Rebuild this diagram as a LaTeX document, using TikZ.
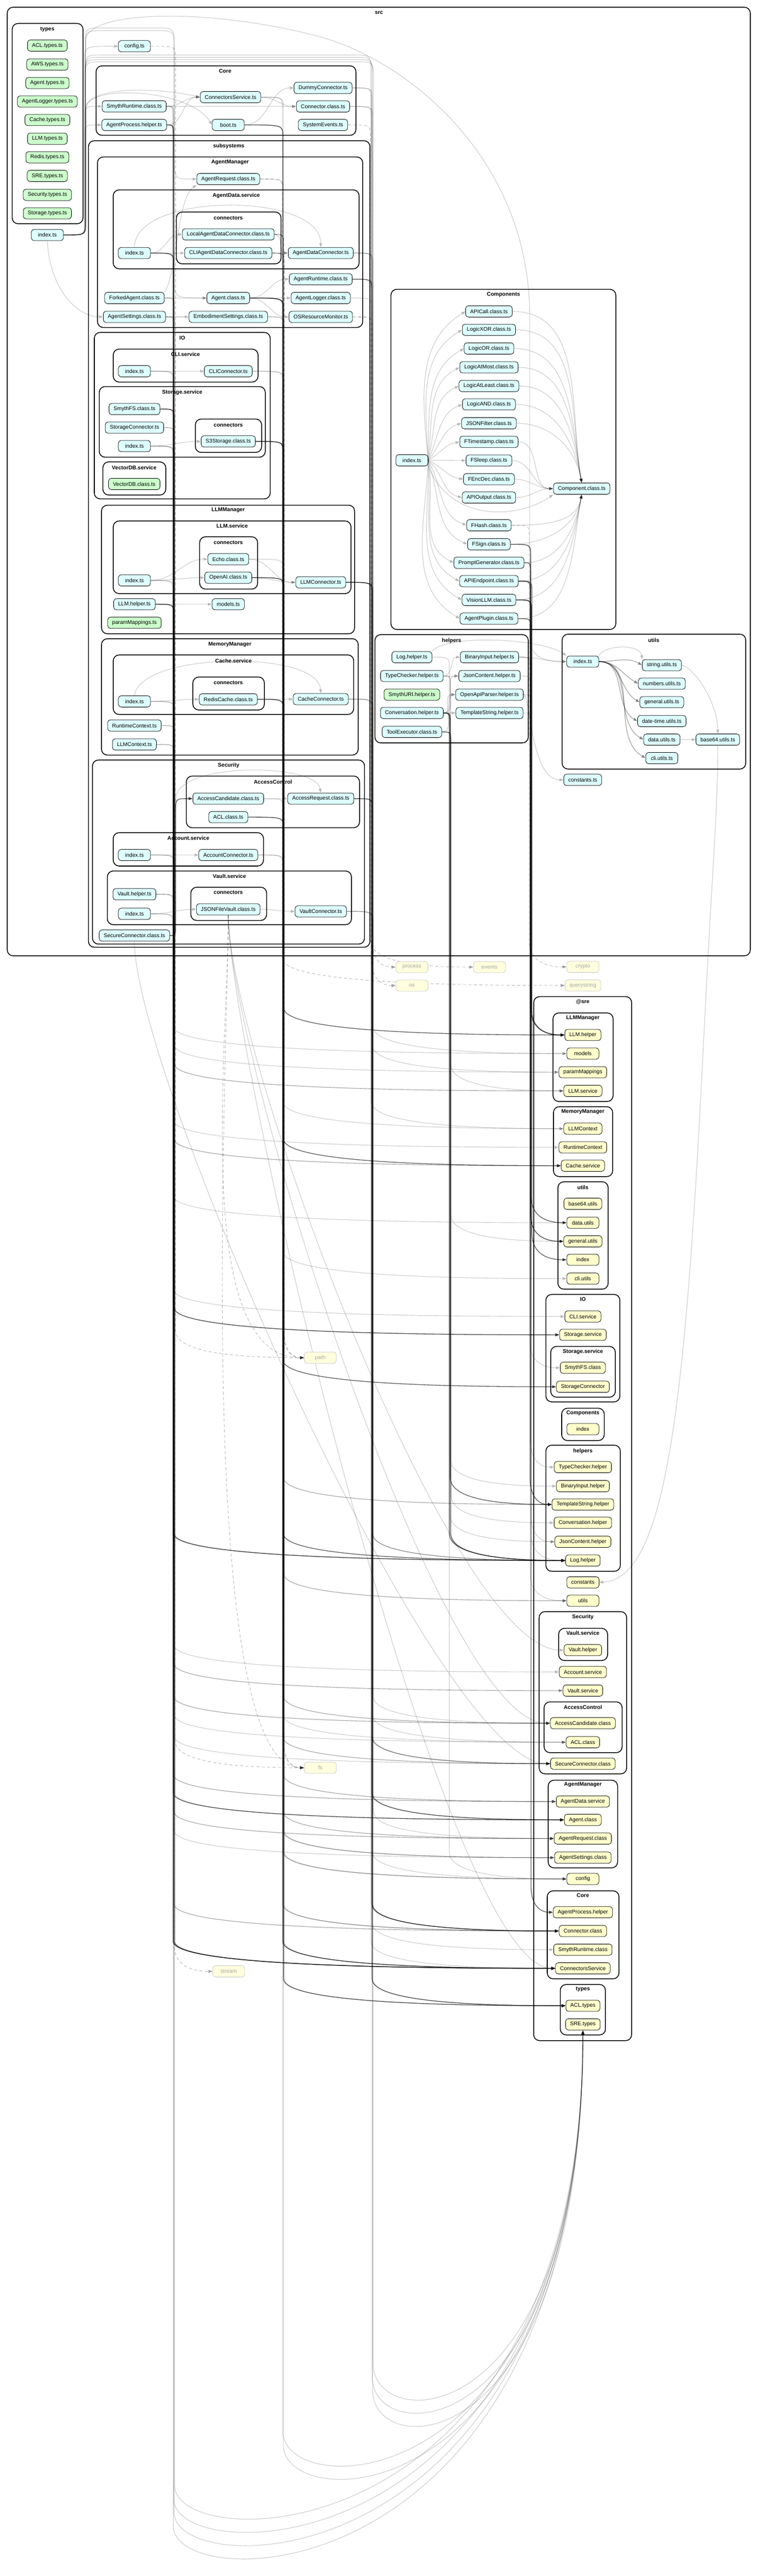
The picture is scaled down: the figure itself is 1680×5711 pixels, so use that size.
\documentclass[tikz,border=0pt]{standalone}
\usepackage{fontspec}
\setmainfont{Liberation Sans}
\usetikzlibrary{arrows.meta, calc}
\definecolor{fileblue}{RGB}{221,254,255}
\definecolor{typegreen}{RGB}{204,255,204}
\definecolor{sreyellow}{RGB}{255,255,204}
\definecolor{coreyellow}{RGB}{255,255,222}
\newcommand{\nodefont}{\fontsize{12}{14}\selectfont}
\pgfdeclarelayer{clusters}
\pgfdeclarelayer{edges}
\pgfsetlayers{clusters,edges,main}
% down a channel, then across to the target
\newcommand{\chanedge}[4]{\draw[#1] let \p1=(#2.east), \p2=(#3.west) in
  (#2.east) .. controls (#4pt,\y1) .. (#4pt,\y1-25pt) -- (#4pt,\y2+60pt)
  .. controls (#4pt,\y2+10pt) and (0.5*#4pt+0.5*\x2,\y2) .. (#3.west);}
% up a channel
\newcommand{\upedge}[4]{\draw[#1] let \p1=(#2.east), \p2=(#3.west) in
  (#2.east) .. controls (#4pt,\y1) .. (#4pt,\y1+25pt) -- (#4pt,\y2-30pt)
  .. controls (#4pt,\y2) .. (#3.west);}
% round the bottom into SRE.types
\newcommand{\loopedge}[4]{\draw[#1] let \p1=(#2.east) in
  (#2.east) .. controls (#3pt,\y1) .. (#3pt,\y1-25pt) -- (#3,#4-100)
  .. controls (#3,#4+60) and (1292,#4+60) .. (sSREtypes.south);}
\newcommand{\dropedge}[3]{\draw[#1] (#2.south) .. controls +(0,300) and +(-250,0) .. (#3.west);}

\begin{document}
\begin{tikzpicture}[
    x=1pt, y=-1pt,
    file/.style={draw, line width=0.9pt, rounded corners=6pt, fill=fileblue,
      minimum height=25pt, minimum width=71pt, inner xsep=10pt, inner ysep=0pt, font=\nodefont},
    tsfile/.style={file, fill=typegreen},
    srefile/.style={file, fill=sreyellow},
    corefile/.style={file, fill=coreyellow, draw=black!22, text=black!35},
    grp/.style={draw, line width=1.8pt, rounded corners=13pt},
    grplabel/.style={font=\nodefont\bfseries},
    dep/.style={draw=black, opacity=0.2, line width=1.3pt, -{Triangle[length=9pt,width=6.5pt]}},
    dkdep/.style={draw=black, opacity=0.65, line width=1.5pt, -{Triangle[length=9pt,width=6.5pt]}},
    coredep/.style={draw=black, opacity=0.3, line width=1pt, dash pattern=on 7pt off 5pt,
      -{Triangle[length=9pt,width=6.5pt]}}
]
\useasboundingbox (0,0) rectangle (1680,5711);
\begin{pgfonlayer}{clusters}
  \fill[white] (0,0) rectangle (1680,5711);
\end{pgfonlayer}

% clusters
\foreach \nm/\xa/\ya/\xb/\yb/\lab/\lx/\ly in {
    gSrc/16/16/1663/2119/src/840/28,
    gTypes/27/52/184/496/types/105/65,
    gCore/213/146/789/300/Core/499/157.5,
    gSub/196/312/820/2100/subsystems/507/324,
    gAgentMgr/216/348/804/726/AgentManager/510/360,
    gAgentData/251/421/796/596/AgentData.service/523.6/433.6,
    gConnAD/391/470/623/585/connectors/506/483,
    gIO/209/737/599/1106/IO/404/749.6,
    gCLI/251/774/572/847/CLI.service/411/786,
    gStorage/220/857/588/1013.6/Storage.service/404/869.6,
    gConnSt/433/929/580/1003/connectors/506/942,
    gVectorDB/228/1024/367.5/1097.5/VectorDB.service/297.5/1037,
    gLLMMgr/225/1120/786/1405/LLMManager/505.7/1131,
    gLLMsvc/251/1155/778/1316/LLM.service/514.6/1166,
    gConnLLM/442.5/1190/571/1306/connectors/506/1203,
    gMemMgr/225/1416/794/1674/MemoryManager/509.6/1428.6,
    gCache/251/1452/784/1584/Cache.service/517.5/1464.7,
    gConnCache/427.5/1501/586/1574/connectors/506/1513,
    gSecurity/205/1685/808/2093/Security/506.8/1697.3,
    gAccessCtl/413/1720.5/797/1835/AccessControl/605/1733.5,
    gAccount/251/1846/584/1920/Account.service/417.5/1858.5,
    gVault/238/1931/779/2050/Vault.service/508.6/1942.4,
    gConnVault/423/1967/591/2040.6/connectors/506/1978.6,
    gComponents/866.5/641.4/1365/1395.5/Components/1116/653.7,
    gHelpers/831/1407/1171/1647/helpers/1001/1420.7,
    gUtils/1246/1406/1653/1705/utils/1449/1419,
    gSre/1183/2209.5/1400/4524/@sre/1291.7/2221.6,
    gsLLMMgr/1225.7/2245.7/1359/2442/LLMManager/1292/2257,
    gsMemMgr/1226.7/2453.5/1358/2608.5/MemoryManager/1292/2465,
    gsUtils/1236.7/2620/1348/2858/utils/1292/2632.6,
    gsIO/1210/2869.7/1374/3108/IO/1292/2881,
    gsStorage/1220.7/2985/1364/3097.5/Storage.service/1292/2996.5,
    gsComponents/1245/3122/1339.3/3193.7/Components/1292/3132.6,
    gsHelpers/1210/3204/1375/3483.5/helpers/1292/3216.8,
    gsSecurity/1195/3573/1389/3932.6/Security/1292/3585,
    gsVault/1238.3/3610/1346.7/3681.4/Vault.service/1292/3621,
    gsAccessCtl/1206/3773/1379/3885.6/AccessControl/1292/3785,
    gsAgentMgr/1215/3946.7/1369/4141/AgentManager/1292/3957,
    gsCore/1213/4192/1372/4387/Core/1292/4202,
    gsTypes/1242/4399.5/1342/4511.4/types/1292/4410}
{
  \begin{pgfonlayer}{clusters}
    \draw[grp] (\xa,\ya) rectangle (\xb,\yb);
  \end{pgfonlayer}
  \node[grplabel] (\nm) at (\lx,\ly) {\lab};
}

% src files
\foreach \nm/\x/\y/\t in {
    srcIndex/105/521/index.ts, config/298/102.5/config.ts,
    smythRuntime/297.5/235.7/SmythRuntime.class.ts, agentProcess/297.5/277/AgentProcess.helper.ts,
    connSvc/511/215.4/ConnectorsService.ts, boot/506/277/boot.ts,
    dummyConn/716/195/DummyConnector.ts, connClass/716/236/Connector.class.ts,
    sysEvents/716/277/SystemEvents.ts,
    agentRequest/506/397/AgentRequest.class.ts,
    adIndex/298/561/index.ts, localADC/506/519.6/LocalAgentDataConnector.class.ts,
    cliADC/506/561/CLIAgentDataConnector.class.ts, adConn/711/561/AgentDataConnector.ts,
    agentRuntime/711/619/AgentRuntime.class.ts, agentLogger/711/660.7/AgentLogger.class.ts,
    osMonitor/711/702.5/OSResourceMonitor.ts,
    forkedAgent/298/660.7/ForkedAgent.class.ts, agentClass/506/660.7/Agent.class.ts,
    agentSettings/298/702.5/AgentSettings.class.ts, embodiment/506/702.5/EmbodimentSettings.class.ts,
    cliIndex/298/823/index.ts, cliConn/506/823/CLIConnector.ts,
    smythFS/298/906.8/SmythFS.class.ts, storageConn/298/948/StorageConnector.ts,
    stIndex/298/989/index.ts, s3/506/978.6/S3Storage.class.ts,
    echo/506/1239.6/Echo.class.ts, openai/506/1280.7/OpenAI.class.ts,
    llmIndex/298/1286.8/index.ts, llmConn/711/1291/LLMConnector.ts,
    llmHelper/298/1339.6/LLM.helper.ts, models/506/1339.6/models.ts,
    redis/506/1550.4/RedisCache.class.ts, cacheIndex/298/1555/index.ts,
    cacheConn/711/1550/CacheConnector.ts,
    runtimeCtx/298/1608.5/RuntimeContext.ts, llmCtx/298/1650.4/LLMContext.ts,
    accessCand/506/1770.5/AccessCandidate.class.ts, accessReq/711/1770.5/AccessRequest.class.ts,
    aclClass/506/1811.6/ACL.class.ts,
    accIndex/298/1895.5/index.ts, accConn/506/1895.5/AccountConnector.ts,
    vaultHelper/298/1982.6/Vault.helper.ts, jsonVault/506/2016/JSONFileVault.class.ts,
    vaultIndex/298/2026/index.ts, vaultConn/711/2020.5/VaultConnector.ts,
    secureConn/298/2074/SecureConnector.class.ts,
    cIndex/913/1020.5/index.ts, compClass/1289.4/1083.3/Component.class.ts,
    logHelper/913/1457/Log.helper.ts, binInput/1085/1457/BinaryInput.helper.ts,
    typeChecker/913/1498.7/TypeChecker.helper.ts, jsonContent/1085/1498.7/JsonContent.helper.ts,
    openApi/1085/1540/OpenApiParser.helper.ts,
    conversation/913/1580.7/Conversation.helper.ts, templateStr/1085/1580.7/TemplateString.helper.ts,
    toolExec/913/1622.7/ToolExecutor.class.ts,
    uIndex/1291.7/1466.7/index.ts, uString/1467/1474.7/string.utils.ts,
    uNumbers/1467/1515.7/numbers.utils.ts, uGeneral/1467/1556.7/general.utils.ts,
    uDateTime/1467/1598.7/date-time.utils.ts, uData/1467/1639.7/data.utils.ts,
    uCli/1467/1680.7/cli.utils.ts, uBase64/1591/1639.7/base64.utils.ts,
    constants/1291.7/1729/constants.ts}
  {\node[file] (\nm) at (\x,\y) {\t};}

\foreach \nm/\y/\t in {
    cAPICall/690.4/APICall.class.ts, cLogicXOR/731.2/LogicXOR.class.ts,
    cLogicOR/772.6/LogicOR.class.ts, cLogicAtMost/814.4/LogicAtMost.class.ts,
    cLogicAtLeast/855.7/LogicAtLeast.class.ts, cLogicAND/896.5/LogicAND.class.ts,
    cJSONFilter/938.4/JSONFilter.class.ts, cFTimestamp/979.7/FTimestamp.class.ts,
    cFSleep/1021/FSleep.class.ts, cFEncDec/1062.3/FEncDec.class.ts,
    cAPIOutput/1103/APIOutput.class.ts, cFHash/1164.4/FHash.class.ts,
    cFSign/1206.7/FSign.class.ts, cPromptGen/1247.6/PromptGenerator.class.ts,
    cAPIEndpoint/1288.4/APIEndpoint.class.ts, cVisionLLM/1330/VisionLLM.class.ts,
    cAgentPlugin/1371.5/AgentPlugin.class.ts}
  {\node[file] (\nm) at (1083.8,\y) {\t};}

\foreach \nm/\x/\y/\t in {
    tACL/105/101/ACL.types.ts, tAWS/105/143/AWS.types.ts, tAgent/105/184/Agent.types.ts,
    tAgentLogger/105/225/AgentLogger.types.ts, tCache/105/266/Cache.types.ts,
    tLLM/105/307.5/LLM.types.ts, tRedis/105/348.6/Redis.types.ts, tSRE/105/390/SRE.types.ts,
    tSecurity/105/432/Security.types.ts, tStorage/105/473/Storage.types.ts,
    vectorDB/297.5/1073/VectorDB.class.ts, paramMap/298/1380.7/paramMappings.ts,
    smythURI/913/1540/SmythURI.helper.ts}
  {\node[tsfile] (\nm) at (\x,\y) {\t};}

% @sre paths
\foreach \nm/\y/\t in {
    sLLMhelper/2294.5/LLM.helper, sModels/2335.8/models, sParamMap/2377/paramMappings,
    sLLMservice/2418.5/LLM.service, sLLMContext/2502.3/LLMContext,
    sRuntimeCtx/2543.6/RuntimeContext, sCacheService/2584.4/Cache.service,
    sBase64/2668.8/base64.utils, sDataUtils/2710.7/data.utils, sGeneralUtils/2752/general.utils,
    sUIndex/2792.8/index, sCliUtils/2834.7/cli.utils, sCLIservice/2918.6/CLI.service,
    sStorageSvc/2959.3/Storage.service, sSmythFS/3032.3/SmythFS.class,
    sStorageConn/3074.4/StorageConnector, sCompIndex/3168.4/index,
    sTypeChecker/3252.6/TypeChecker.helper, sBinaryInput/3294.7/BinaryInput.helper,
    sTemplateString/3335.4/TemplateString.helper, sConversation/3376/Conversation.helper,
    sJsonContent/3418/JsonContent.helper, sLogHelper/3459.6/Log.helper,
    sConstants/3508/constants, sUtils/3548.8/utils, sVaultHelper/3658.2/Vault.helper,
    sAccountSvc/3706.7/Account.service, sVaultSvc/3748/Vault.service,
    sAccessCand/3820.4/AccessCandidate.class, sACLclass/3862.5/ACL.class,
    sSecureConn/3910/SecureConnector.class, sAgentDataSvc/3994/AgentData.service,
    sAgentClass/4034.6/Agent.class, sAgentRequest/4076/AgentRequest.class,
    sAgentSettings/4118.4/AgentSettings.class, sConfig/4165.6/config,
    sAgentProcess/4239.4/AgentProcess.helper, sConnectorClass/4281/Connector.class,
    sSmythRuntime/4322.4/SmythRuntime.class, sConnectorsSvc/4363.8/ConnectorsService,
    sACLtypes/4446.7/ACL.types, sSREtypes/4488/SRE.types}
  {\node[srefile] (\nm) at (1292,\y) {\t};}

% node core modules
\foreach \nm/\x/\y/\t in {
    mProcess/913/2144/process, mEvents/1085/2144/events, mCrypto/1292/2143.5/crypto,
    mOs/913/2185/os, mQuery/1292/2184.8/querystring, mPath/710/3010/path,
    mFs/710/3919/fs, mStream/507/4370.5/stream}
  {\node[corefile] (\nm) at (\x,\y) {\t};}

\begin{pgfonlayer}{edges}
% local imports
\foreach \a/\b in {smythRuntime/connSvc, agentProcess/connSvc, smythRuntime/connClass,
    boot/dummyConn, connSvc/connClass,
    adIndex/localADC, adIndex/cliADC, localADC/adConn, cliADC/adConn,
    forkedAgent/agentClass, agentSettings/embodiment, agentClass/agentRuntime,
    agentClass/agentLogger, agentClass/osMonitor,
    cliIndex/cliConn, stIndex/s3,
    llmIndex/echo, llmIndex/openai, echo/llmConn, openai/llmConn, llmHelper/models,
    cacheIndex/redis, redis/cacheConn,
    accessCand/accessReq, accIndex/accConn, vaultIndex/jsonVault, jsonVault/vaultConn,
    typeChecker/binInput, typeChecker/jsonContent, conversation/jsonContent,
    conversation/openApi, conversation/templateStr, toolExec/openApi, binInput/uIndex,
    uData/uBase64}
  {\draw[dep] (\a.east) to[out=0,in=180] (\b.west);}

\draw[dep] (adIndex.north) .. controls (300,425) and (711,425) .. (adConn.north);
\draw[dep] (cacheIndex.north) .. controls (310,1445) and (705,1440) .. (cacheConn.north);
\draw[dep] (forkedAgent.north east) .. controls (392,610) and (392,440) .. (agentRequest.south west);
\draw[dep] (secureConn.east) .. controls (390,2074) .. (390,2044) -- (390,1770)
  .. controls (390,1690) and (700,1690) .. (accessReq.north);
\upedge{dkdep}{secureConn}{accessCand}{389}
\draw[dep] (logHelper.north east) .. controls (990,1405) and (1200,1415) .. (uIndex.north west);
\draw[dep] (uIndex.north east) .. controls (1340,1428) and (1420,1428) .. (uString.north west);
\draw[dep] (uString.east) .. controls (1540,1480) and (1591,1560) .. (uBase64.north);
\draw[dep] (openApi.east) .. controls (1176,1540) and (1176,1729) .. (constants.west);
\foreach \u in {uString, uNumbers, uGeneral, uDateTime, uData, uCli}
  {\draw[dkdep, opacity=0.35] (uIndex.east) to[out=0,in=150] (\u.west);}
\draw[dep] (uBase64.south) .. controls (1591,1800) and (1580,1900) .. (1560,2300)
  .. controls (1520,3100) and (1480,3500) .. (sConstants.east);

% Components
\foreach \c/\o [evaluate=\o as \i using 180+\o/3] in {cAPICall/95, cLogicXOR/92,
    cLogicOR/88, cLogicAtMost/82, cLogicAtLeast/75, cLogicAND/65, cJSONFilter/50,
    cFTimestamp/30, cFSleep/0, cFEncDec/-25, cAPIOutput/-40, cFHash/-60, cFSign/-70,
    cPromptGen/-78, cAPIEndpoint/-84, cVisionLLM/-88, cAgentPlugin/-92}
  {\draw[dep] (cIndex.east) to[out=\o,in=\i] (\c.west);}
\foreach \c in {cAPICall, cLogicXOR, cLogicOR, cLogicAtMost, cLogicAtLeast, cLogicAND, cJSONFilter}
  {\draw[dep] (\c.east) to[out=0,in=100] (compClass.north);}
\foreach \c in {cFTimestamp, cFSleep, cFEncDec, cAPIOutput}
  {\draw[dep] (\c.east) to[out=0,in=180] (compClass.west);}
\foreach \c in {cFHash, cFSign, cPromptGen, cAPIEndpoint, cVisionLLM, cAgentPlugin}
  {\draw[dep] (\c.east) to[out=0,in=-100] (compClass.south);}
\draw[dep] (cIndex.south east) .. controls (1000,1160) and (1150,1150) .. (compClass.south west);

% src/index.ts
\foreach \d in {config, smythRuntime, agentProcess}
  {\upedge{dep}{srcIndex}{\d}{188}}
\draw[dep] (srcIndex.east) .. controls (190,521) .. (190,496) -- (190,240)
  .. controls (190,196) and (330,190) .. (connSvc.west);
\draw[dep] (srcIndex.east) .. controls (191,521) .. (191,496) -- (191,240)
  .. controls (191,186) and (420,196) .. (boot.west);
\foreach \d/\yt in {agentRequest/62, agentClass/68}
  {\draw[dep] let \p2=(\d.west) in (srcIndex.east) .. controls (189,521) .. (189,496)
    -- (189,\yt+40) .. controls (189,\yt) .. (229,\yt) -- (346,\yt)
    .. controls (386,\yt) .. (386,\yt+40) -- (386pt,\y2+50pt) .. controls (386pt,\y2) .. (\d.west);}
\foreach \d/\yt/\chx in {sConnectorsSvc/122/822, sSmythRuntime/127/824, sAgentClass/132/826, sAgentRequest/137/828}
  {\draw[dep] let \p2=(\d.west) in (srcIndex.east) .. controls (189,521) .. (189,496)
    -- (189,\yt+40) .. controls (189,\yt) .. (229,\yt) -- (\chx-40,\yt)
    .. controls (\chx,\yt) .. (\chx,\yt+40) -- (\chx pt,\y2+60pt)
    .. controls (\chx pt,\y2+10pt) and (0.5*\chx pt+0.5*\x2,\y2) .. (\d.west);}
\draw[dep] (srcIndex.south) .. controls (110,640) and (170,702) .. (agentSettings.west);
\draw[dep] (srcIndex.east) .. controls (190,521) .. (190,496) -- (190,90)
  .. controls (190,25) and (450,15) .. (700,79) .. controls (900,130) and (1174,350) .. (1174,700)
  -- (1174,1410) .. controls (1174,1460) and (1210,1466.7) .. (uIndex.west);

% imports of @sre paths
\foreach \a/\b/\chx in {
    smythRuntime/sLogHelper/383, smythRuntime/sConnectorsSvc/384,
    agentProcess/sAgentRequest/385, agentProcess/sAgentSettings/386,
    adIndex/sAgentDataSvc/384, forkedAgent/sAgentRequest/386, forkedAgent/sLogHelper/387,
    agentSettings/sAgentDataSvc/385, agentSettings/sConnectorsSvc/388,
    cliIndex/sCLIservice/384, cliIndex/sConnectorsSvc/386,
    smythFS/sAccessCand/386, smythFS/sACLclass/387, smythFS/sDataUtils/384,
    storageConn/sSecureConn/387, storageConn/sConnectorClass/385,
    stIndex/sStorageSvc/386, stIndex/sConnectorsSvc/384,
    llmIndex/sLLMservice/386, llmIndex/sConnectorsSvc/383,
    llmHelper/sModels/385, llmHelper/sParamMap/387,
    cacheIndex/sCacheService/385, cacheIndex/sConnectorsSvc/387,
    runtimeCtx/sCacheService/386, runtimeCtx/sAgentClass/388,
    llmCtx/sLLMservice/387, llmCtx/sRuntimeCtx/385,
    accIndex/sAccountSvc/385, accIndex/sConnectorsSvc/387,
    vaultHelper/sVaultSvc/386, vaultHelper/sAccessCand/384,
    vaultIndex/sVaultSvc/385, vaultIndex/sConnectorsSvc/383, secureConn/sConnectorClass/386,
    agentRequest/sConnectorsSvc/628, boot/sConfig/627, connSvc/sConnectorClass/626,
    localADC/sAgentSettings/627, localADC/sConfig/629, cliADC/sCliUtils/628,
    cliADC/sAgentSettings/630, agentClass/sAgentRequest/627, agentClass/sAgentSettings/628,
    agentClass/sAgentDataSvc/629, agentClass/sConnectorsSvc/626,
    embodiment/sAgentDataSvc/628, embodiment/sConnectorsSvc/630,
    cliConn/sConnectorClass/627, cliConn/sAgentRequest/629,
    s3/sACLclass/628, s3/sAccessCand/629, s3/sSecureConn/627, s3/sUtils/630,
    echo/sTemplateString/628, openai/sLLMContext/627, openai/sTemplateString/629,
    redis/sAccessCand/628, redis/sConfig/630, accessCand/sACLtypes/627,
    aclClass/sUtils/628, accConn/sConnectorClass/629, accConn/sSecureConn/627,
    dummyConn/sConnectorClass/823, dummyConn/sLogHelper/825,
    connClass/sACLtypes/824, connClass/sLogHelper/826,
    adConn/sConnectorClass/825, adConn/sAccessCand/827, adConn/sSecureConn/824,
    agentRuntime/sLogHelper/826, agentLogger/sConfig/825,
    llmConn/sLLMContext/823, llmConn/sParamMap/825, llmConn/sModels/827, llmConn/sSecureConn/826,
    cacheConn/sSecureConn/825, cacheConn/sConnectorClass/827, accessReq/sACLclass/826,
    vaultConn/sSecureConn/824, vaultConn/sConnectorClass/826,
    logHelper/sConfig/996, typeChecker/sBinaryInput/998, typeChecker/sGeneralUtils/999,
    conversation/sJsonContent/997, conversation/sLLMservice/999, toolExec/sConversation/1000,
    binInput/sSmythFS/1174, binInput/sGeneralUtils/1176, jsonContent/sUtils/1175,
    openApi/sJsonContent/1177, templateStr/sTypeChecker/1176, cFSign/sLogHelper/1177}
  {\chanedge{dep}{\a}{\b}{\chx}}

\foreach \a/\b/\chx in {
    agentProcess/sAgentClass/384, adIndex/sConnectorsSvc/385, smythFS/sStorageSvc/386,
    llmHelper/sLogHelper/385, agentClass/sLogHelper/628, s3/sStorageConn/627,
    openai/sLLMhelper/629, redis/sCacheService/628, aclClass/sACLtypes/629,
    boot/sConnectorsSvc/627, agentRuntime/sAgentClass/824, llmConn/sConnectorClass/825,
    accessReq/sACLtypes/825, conversation/sTemplateString/998, conversation/sLogHelper/996,
    toolExec/sLogHelper/999, cPromptGen/sLLMhelper/1176, cVisionLLM/sLLMhelper/1178,
    cVisionLLM/sDataUtils/1177, cAPIEndpoint/sTemplateString/1175, cAPIEndpoint/sUIndex/1179,
    cAgentPlugin/sAgentProcess/1177, cFSign/sGeneralUtils/1176}
  {\chanedge{dkdep}{\a}{\b}{\chx}}

\foreach \a/\chx/\yb in {agentProcess/384/5700, smythRuntime/386/5670, adIndex/385/5640,
    stIndex/387/5610, connSvc/628/5520, agentClass/627/5490, llmConn/826/5400,
    cacheConn/825/5370, vaultConn/827/5340}
  {\loopedge{dep}{\a}{\chx}{\yb}}

\foreach \b in {sVaultHelper, sAccessCand, sConnectorsSvc}
  {\dropedge{dep}{jsonVault}{\b}}
\dropedge{dep}{secureConn}{sSecureConn}

% core modules
\foreach \a/\b/\chx in {osMonitor/mOs/823, osMonitor/mProcess/825, sysEvents/mEvents/821,
    cFHash/mCrypto/1173, agentRequest/mQuery/626, localADC/mPath/628, localADC/mFs/629,
    cliADC/mPath/630, cliADC/mFs/627, config/mPath/389, vaultHelper/mFs/388,
    llmHelper/mStream/386}
  {\chanedge{coredep}{\a}{\b}{\chx}}
\dropedge{coredep}{jsonVault}{mPath}
\dropedge{coredep}{jsonVault}{mFs}
\end{pgfonlayer}

\end{tikzpicture}
\end{document}
